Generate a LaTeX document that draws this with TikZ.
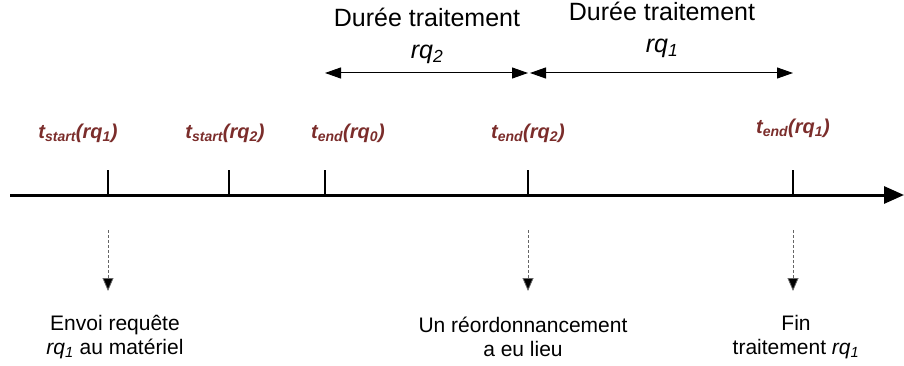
\documentclass[tikz,border=0pt]{standalone}
\usepackage{fontspec}
\setmainfont{Liberation Sans}
\usetikzlibrary{arrows.meta}
\definecolor{tickred}{HTML}{7B2D2B}
\newcommand{\req}[1]{\textit{rq\textsubscript{#1}}}

\begin{document}
\begin{tikzpicture}[x=1pt,y=-1pt, every node/.append style={inner sep=0pt}]
    \tikzstyle{axis}=[draw=black, line width=3pt, -{Triangle[length=20pt,width=17pt]}]
    \tikzstyle{tick}=[draw=black, line width=1.8pt]
    \tikzstyle{tlabel}=[text=tickred, font=\fontsize{20}{22}\selectfont\bfseries\itshape]
    \tikzstyle{span}=[draw=black, line width=1pt, {Triangle[length=16pt,width=11pt]}-{Triangle[length=16pt,width=11pt]}]
    \tikzstyle{annot}=[align=center, font=\fontsize{25}{32}\selectfont]
    \tikzstyle{event}=[draw=black!60, line width=0.8pt, dash pattern=on 3pt off 2pt, -{Triangle[length=13pt,width=11pt,fill=black]}]
    \tikzstyle{note}=[align=center, font=\fontsize{21}{24}\selectfont]
    \useasboundingbox (0,0) rectangle (904,366);

    % Draw the time axis
    \coordinate (ax-start) at (10,195);
    \coordinate (ax-end) at (904,195);
    \draw[axis] (ax-start) -- (ax-end);

    % Draw the ticks
    \foreach \name / \x in {s1/108, s2/229, e0/325, e2/528, e1/793}
        \draw[tick] (\x,195) coordinate (T-\name) -- (\x,170) coordinate (U-\name);

    % Tick labels
    \node[tlabel] (L-s1) at (78,133) {t\textsubscript{start}(rq\textsubscript{1})};
    \node[tlabel] (L-s2) at (225,133) {t\textsubscript{start}(rq\textsubscript{2})};
    \node[tlabel] (L-e0) at (348,133) {t\textsubscript{end}(rq\textsubscript{0})};
    \node[tlabel] (L-e2) at (528,133) {t\textsubscript{end}(rq\textsubscript{2})};
    \node[tlabel] (L-e1) at (793,128) {t\textsubscript{end}(rq\textsubscript{1})};

    % Processing spans
    \coordinate (P-e0) at (325,73);
    \coordinate (P-e2) at (528,73);
    \coordinate (P-e2b) at (530,73);
    \coordinate (P-e1) at (793,73);
    \draw[span] (P-e0) -- (P-e2);
    \draw[span] (P-e2b) -- (P-e1);
    \node[annot] (d2) at (427,36) {Durée traitement\\\req{2}};
    \node[annot] (d1) at (662,30) {Durée traitement\\\req{1}};

    % Events below the axis
    \foreach \name / \x in {s1/108, e2/528, e1/793}
        \draw[event] (\x,230) coordinate (E-\name) -- (\x,291) coordinate (F-\name);
    \node[note] (n-s1) at (115,337) {Envoi requête\\\req{1} au matériel};
    \node[note] (n-e2) at (523,337) {Un réordonnancement\\a eu lieu};
    \node[note] (n-e1) at (796,337) {Fin\\traitement \req{1}};
\end{tikzpicture}
\end{document}
